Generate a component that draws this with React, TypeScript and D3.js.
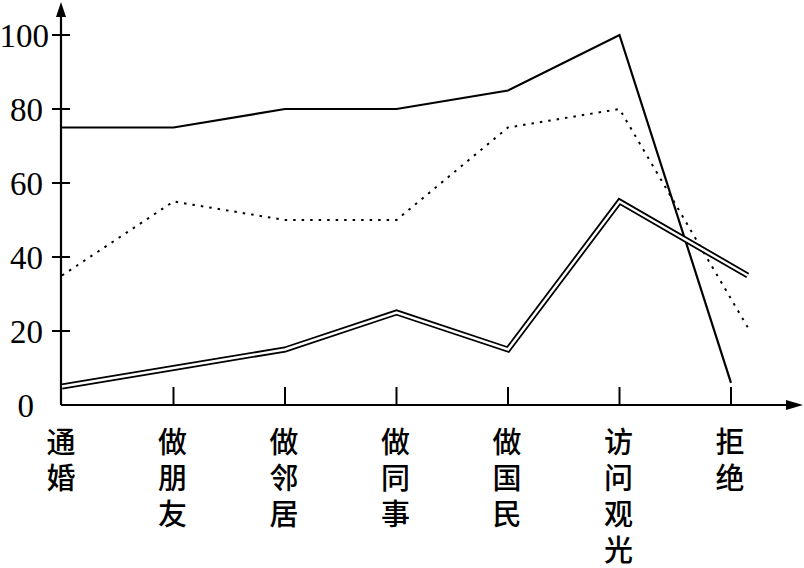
import React from "react";
import * as d3 from "d3";

const categories = ["通婚", "做朋友", "做邻居", "做同事", "做国民", "访问观光", "拒绝"];
const yTicks = [0, 20, 40, 60, 80, 100];

// x positions are category indices (last point of some series sits a little right of 拒绝)
const solidX = [0, 1, 2, 3, 4, 5, 6];
const solidValues = [75, 75, 80, 80, 85, 100, 6];

const dottedX = [0, 1, 2, 3, 4, 5, 6.15];
const dottedValues = [35, 55, 50, 50, 75, 80, 21];

const doubleX = [0, 1, 2, 3, 4, 5, 6.15];
const doubleValues = [5, 10, 15, 25, 15, 55, 35];

const W = 804;
const H = 568;

export default function App() {
  const x = d3.scaleLinear().domain([0, 6]).range([62, 731]);
  const y = d3.scaleLinear().domain([0, 100]).range([405, 35]);
  const line = d3
    .line<[number, number]>()
    .x((d) => x(d[0]))
    .y((d) => y(d[1]));

  const solid = line(solidX.map((v, i) => [v, solidValues[i]]));
  const dotted = line(dottedX.map((v, i) => [v, dottedValues[i]]));
  const dbl = line(doubleX.map((v, i) => [v, doubleValues[i]]));

  const axisX = 61;
  const axisY = 405;

  const labelEnd = (t: number) => (t === 100 ? 49 : t === 0 ? 34 : 43);

  return (
    <svg
      width={W}
      height={H}
      style={{ position: "absolute", left: 0, top: 0, background: "#fff" }}
    >
      <rect x={0} y={0} width={W} height={H} fill="#fff" />
      {/* axes */}
      <line x1={axisX} y1={axisY} x2={axisX} y2={12} stroke="#000" strokeWidth={2.2} />
      <path d={`M${axisX},2 L${axisX - 5},17 L${axisX + 5},17 Z`} fill="#000" />
      <line x1={axisX} y1={axisY} x2={792} y2={axisY} stroke="#000" strokeWidth={2.2} />
      <path d={`M803,${axisY} L786,${axisY - 5} L786,${axisY + 5} Z`} fill="#000" />

      {/* y ticks */}
      {yTicks.filter((t) => t > 0).map((t) => (
        <line key={"yt" + t} x1={52} x2={70} y1={y(t)} y2={y(t)} stroke="#000" strokeWidth={2} />
      ))}
      {yTicks.map((t) => (
        <text
          key={"yl" + t}
          x={labelEnd(t)}
          y={y(t)}
          dy="0.35em"
          textAnchor="end"
          fontFamily="'Liberation Serif', 'DejaVu Serif', serif"
          fontSize={33}
          fill="#000"
        >
          {t}
        </text>
      ))}

      {/* x ticks */}
      {categories.map((c, i) =>
        i === 0 ? null : (
          <line key={"xt" + i} x1={x(i)} x2={x(i)} y1={axisY} y2={387} stroke="#000" strokeWidth={2} />
        )
      )}

      {/* category labels, vertical: one text per character */}
      {categories.map((c, i) =>
        c.split("").map((ch, k) => (
          <text
            key={"xl" + i + "-" + k}
            x={x(i) - 1}
            y={453 + k * 36}
            textAnchor="middle"
            fontFamily="'Noto Sans CJK SC', sans-serif"
            fontSize={29}
            fontWeight={500}
            fill="#000"
          >
            {ch}
          </text>
        ))
      )}

      {/* series */}
      <path d={solid ?? ""} fill="none" stroke="#000" strokeWidth={2.2} strokeLinejoin="miter" />
      <path d={dotted ?? ""} fill="none" stroke="#000" strokeWidth={2} strokeDasharray="2.5,6" />
      <path d={dbl ?? ""} fill="none" stroke="#000" strokeWidth={6} strokeLinejoin="miter" />
      <path d={dbl ?? ""} fill="none" stroke="#fff" strokeWidth={2.4} strokeLinejoin="miter" />
    </svg>
  );
}
